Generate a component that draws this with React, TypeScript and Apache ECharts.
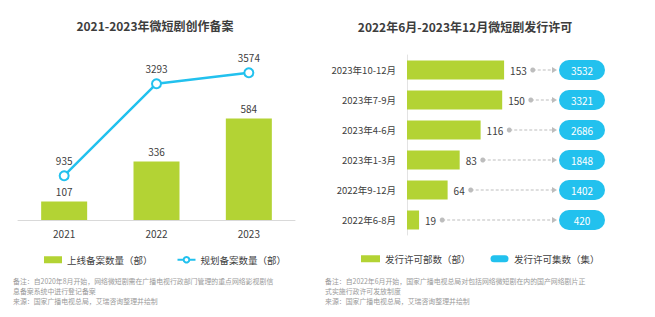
import React, { useEffect, useRef } from 'react';
import * as echarts from 'echarts';

const years = ['2021', '2022', '2023'];
const onlineFilings = [107, 336, 584];
const plannedFilings = [935, 3293, 3574];

const periods = ['2023年10-12月', '2023年7-9月', '2023年4-6月', '2023年1-3月', '2022年9-12月', '2022年6-8月'];
const licensedTitles = [153, 150, 116, 83, 64, 19];
const licensedEpisodes = [3532, 3321, 2686, 1848, 1402, 420];

const leftTitle = '2021-2023年微短剧创作备案';
const rightTitle = '2022年6月-2023年12月微短剧发行许可';
const leftSeriesNames = ['上线备案数量（部）', '规划备案数量（部）'];
const rightSeriesNames = ['发行许可部数（部）', '发行许可集数（集）'];
const leftNotes = [
  '备注：自2020年8月开始，网络微短剧需在广播电视行政部门管理的重点网络影视剧信',
  '息备案系统中进行登记备案',
  '来源：国家广播电视总局，艾瑞咨询整理并绘制',
];
const rightNotes = [
  '备注：自2022年6月开始，国家广播电视总局对包括网络微短剧在内的国产网络剧片正',
  '式实施行政许可发放制度',
  '来源：国家广播电视总局，艾瑞咨询整理并绘制',
];

const FONT = '"Noto Sans CJK SC", "Noto Sans", sans-serif';
const GREEN = '#B3D334';
const CYAN = '#22C1EE';
const TEXT = '#404040';
const GRAY = '#bdbdbd';

let measureCtx: CanvasRenderingContext2D | null = null;
function textWidth(t: string, size: number) {
  if (!measureCtx) {
    const c = document.createElement('canvas');
    measureCtx = c.getContext('2d');
  }
  if (!measureCtx) return t.length * size * 0.55;
  measureCtx.font = `${size}px ${FONT}`;
  return measureCtx.measureText(t).width;
}

function noteTexts(lines: string[], x: number) {
  return lines.map((t, i) => ({
    type: 'text', x, y: 281 + i * 10,
    style: { text: t, fill: '#9a9a9a', fontSize: 6.9, fontFamily: FONT, align: 'left', verticalAlign: 'middle' },
  }));
}

export default function App() {
  const ref = useRef<HTMLDivElement>(null);
  useEffect(() => {
    document.body.style.margin = '0';
    if (!ref.current) return;
    const chart = echarts.init(ref.current, undefined, { renderer: 'svg' });
    const pillIcon = 'path://M3.5,0 L14.5,0 A3.5,3.5 0 0 1 14.5,7 L3.5,7 A3.5,3.5 0 0 1 3.5,0 Z';
    const option: any = {
      animation: false,
      textStyle: { fontFamily: FONT },
      grid: [
        { left: 18, top: 60, width: 277, height: 160 },
        { left: 407, top: 55, width: 198, height: 180 },
      ],
      xAxis: [
        {
          type: 'category', gridIndex: 0, data: years,
          axisLine: { lineStyle: { color: '#d9d9d9' } },
          axisTick: { show: false },
          axisLabel: { color: TEXT, fontSize: 10, fontFamily: FONT, margin: 8 },
        },
        { type: 'value', gridIndex: 1, min: 0, max: 312, show: false },
      ],
      yAxis: [
        { type: 'value', gridIndex: 0, min: 0, max: 920, show: false },
        { type: 'value', gridIndex: 0, min: -200, max: 3900, show: false },
        {
          type: 'category', gridIndex: 1, data: periods, inverse: true,
          axisLine: { lineStyle: { color: '#e3e3e3' } },
          axisTick: { show: false },
          axisLabel: { color: TEXT, fontSize: 9.5, fontFamily: FONT, margin: 11 },
        },
      ],
      legend: [
        {
          left: 39, top: 250, itemWidth: 18, itemHeight: 7, itemGap: 24, selectedMode: false,
          textStyle: { color: TEXT, fontSize: 9.5, fontFamily: FONT },
          data: [{ name: leftSeriesNames[0], icon: 'rect' }, { name: leftSeriesNames[1] }],
        },
        {
          left: 356, top: 249, itemWidth: 19, itemHeight: 7, itemGap: 20, selectedMode: false,
          textStyle: { color: TEXT, fontSize: 9.5, fontFamily: FONT },
          data: [{ name: rightSeriesNames[0], icon: 'rect' }, { name: rightSeriesNames[1], icon: pillIcon }],
        },
      ],
      series: [
        {
          name: leftSeriesNames[0], type: 'bar', xAxisIndex: 0, yAxisIndex: 0,
          data: onlineFilings, barWidth: 46,
          itemStyle: { color: GREEN },
          label: { show: true, position: 'top', distance: 5, color: TEXT, fontSize: 10, fontFamily: FONT },
        },
        {
          name: leftSeriesNames[1], type: 'line', xAxisIndex: 0, yAxisIndex: 1,
          data: plannedFilings, symbol: 'emptyCircle', symbolSize: 9,
          lineStyle: { color: CYAN, width: 2.5 },
          itemStyle: { color: CYAN, borderWidth: 2.5 },
          label: { show: true, position: 'top', distance: 5, color: TEXT, fontSize: 10, fontFamily: FONT },
        },
        {
          name: rightSeriesNames[0], type: 'bar', xAxisIndex: 1, yAxisIndex: 2,
          data: licensedTitles, barWidth: 19,
          itemStyle: { color: GREEN },
          label: { show: true, position: 'right', distance: 6, color: TEXT, fontSize: 10, fontFamily: FONT },
        },
        {
          name: rightSeriesNames[1], type: 'custom', xAxisIndex: 1, yAxisIndex: 2,
          itemStyle: { color: CYAN },
          encode: { x: 0, y: 1 },
          data: licensedTitles.map((v, i) => [v, i, licensedEpisodes[i]]),
          renderItem: (params: any, api: any) => {
            const v = api.value(0);
            const idx = api.value(1);
            const p = api.value(2);
            const pt = api.coord([v, idx]);
            const cs = params.coordSys;
            const lw = textWidth(String(v), 10);
            const dotX = pt[0] + 6 + lw + 6;
            const pillW = 46;
            const pillH = 20;
            const pillX = cs.x + cs.width - pillW;
            const tipX = pillX - 2;
            const y = pt[1];
            return {
              type: 'group',
              children: [
                { type: 'line', shape: { x1: dotX, y1: y, x2: tipX - 4, y2: y }, style: { stroke: GRAY, lineWidth: 1, lineDash: [3, 2] } },
                { type: 'circle', shape: { cx: dotX, cy: y, r: 2.5 }, style: { fill: GRAY } },
                { type: 'polygon', shape: { points: [[tipX - 5, y - 3], [tipX, y], [tipX - 5, y + 3]] }, style: { fill: GRAY } },
                { type: 'rect', shape: { x: pillX, y: y - pillH / 2, width: pillW, height: pillH, r: pillH / 2 }, style: { fill: CYAN } },
                {
                  type: 'text', x: pillX + pillW / 2, y: y,
                  style: { text: String(p), fill: '#ffffff', fontSize: 10, fontFamily: FONT, align: 'center', verticalAlign: 'middle' },
                },
              ],
            };
          },
        },
      ],
      graphic: [
        {
          type: 'text', x: 155, y: 25,
          style: { text: leftTitle, fill: '#3d3d3d', fontSize: 12, fontWeight: 'bold', fontFamily: FONT, align: 'center', verticalAlign: 'middle' },
        },
        {
          type: 'text', x: 465, y: 26,
          style: { text: rightTitle, fill: '#3d3d3d', fontSize: 12, fontWeight: 'bold', fontFamily: FONT, align: 'center', verticalAlign: 'middle' },
        },
        ...noteTexts(leftNotes, 13),
        ...noteTexts(rightNotes, 325),
      ],
    };
    chart.setOption(option);
    return () => chart.dispose();
  }, []);
  return <div ref={ref} style={{ width: 655, height: 317 }} />;
}
